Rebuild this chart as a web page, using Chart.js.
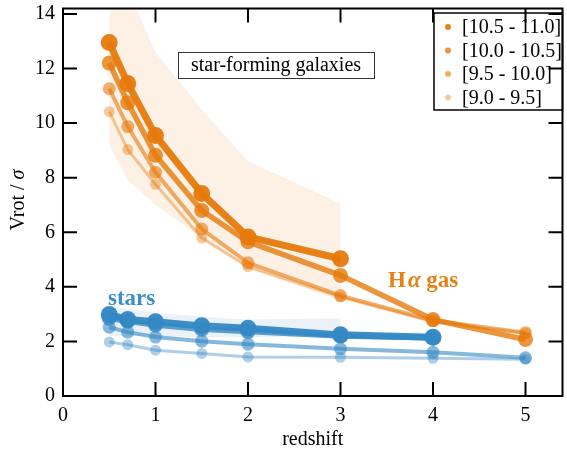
<!DOCTYPE html>
<html>
<head>
<meta charset="utf-8">
<script src="https://cdn.jsdelivr.net/npm/chart.js@4.4.0/dist/chart.umd.min.js"></script>
<style>
  html, body { margin: 0; padding: 0; background: #fff; overflow: hidden; }
  #wrap { width: 571px; height: 456px; }
</style>
</head>
<body>
<div id="wrap"><canvas id="myChart"></canvas></div>
<script>
// values
const redshift = [0.5, 0.7, 1.0, 1.5, 2.0, 3.0, 4.0, 5.0];
const massBins = ['[10.5 - 11.0]', '[10.0 - 10.5]', '[9.5 - 10.0]', '[9.0 - 9.5]'];

const gas1 = [12.95, 11.45, 9.55, 7.42, 5.83, 5.03, null, null];
const gas2 = [12.2, 10.75, 8.82, 6.8, 5.65, 4.42, 2.8, 2.07];
const gas3 = [11.26, 9.87, 8.2, 6.12, 4.88, 3.68, 2.77, 2.32];
const gas4 = [10.42, 9.03, 7.76, 5.79, 4.74, 3.63, 2.72, 2.3];

const stars1 = [2.99, 2.8, 2.72, 2.57, 2.48, 2.24, 2.15, null];
const stars2 = [2.85, 2.74, 2.6, 2.45, 2.36, 2.2, 2.13, null];
const stars3 = [2.52, 2.34, 2.16, 2.01, 1.9, 1.73, 1.6, 1.4];
const stars4 = [1.98, 1.88, 1.68, 1.56, 1.43, 1.42, 1.38, 1.35];

// shaded ranges of the star-forming sample
const bandZ = [0.5, 0.7, 1.0, 1.5, 2.0, 3.0];
const gasBandHi = [17, 14.9, 12.6, 10.5, 8.6, 7.05];
const gasBandLo = [9.2, 7.9, 7.0, 5.8, 4.66, 3.5];
const starBandHi = [3.3, 3.2, 3.05, 2.9, 2.8, 2.85];
const starBandLo = [2.2, 2.2, 2.2, 2.15, 2.15, 2.15];

const xTicks = [0, 1, 2, 3, 4, 5];
const yTicks = [0, 2, 4, 6, 8, 10, 12, 14];

const serif = '"Liberation Serif", "DejaVu Serif", serif';
const alphas = [0.95, 0.8, 0.6, 0.4];
const widths = [7, 5.5, 4, 3];
const radii = [8.5, 7.5, 6.5, 5.5];
const orange = a => 'rgba(230,122,12,' + a + ')';
const blue = a => 'rgba(52,136,196,' + a + ')';

function pts(xs, ys) {
  return xs.map((x, i) => ({ x: x, y: ys[i] }));
}

function series(label, ys, i, col) {
  return {
    label: label,
    data: pts(redshift, ys),
    borderColor: col(alphas[i]),
    backgroundColor: col(alphas[i]),
    borderWidth: widths[i],
    pointRadius: radii[i],
    pointBorderWidth: 0,
    pointBackgroundColor: col(alphas[i]),
    spanGaps: false,
    fill: false,
    order: 4 - i
  };
}

function band(ys, col, fill) {
  return {
    label: '',
    data: pts(bandZ, ys),
    borderWidth: 0,
    borderColor: 'rgba(0,0,0,0)',
    backgroundColor: col,
    pointRadius: 0,
    fill: fill,
    order: 20
  };
}

const gasSets = [gas1, gas2, gas3, gas4].map((ys, i) => series(massBins[i], ys, i, orange));
const starSets = [stars1, stars2, stars3, stars4].map((ys, i) => series('stars ' + massBins[i], ys, i, blue));

const datasets = gasSets.concat(starSets).concat([
  band(gasBandHi, 'rgba(235,140,50,0.12)', '+1'),
  band(gasBandLo, 'rgba(235,140,50,0.12)', false),
  band(starBandHi, 'rgba(60,130,180,0.1)', '+1'),
  band(starBandLo, 'rgba(60,130,180,0.1)', false)
]);

const frame = {
  id: 'frame',
  afterDatasetsDraw(chart) {
    const ctx = chart.ctx;
    const a = chart.chartArea;
    const xs = chart.scales.x, ys = chart.scales.y;
    ctx.save();

    // text box
    ctx.fillStyle = '#fff';
    ctx.fillRect(178, 52, 196, 26);
    ctx.strokeStyle = '#333';
    ctx.lineWidth = 1;
    ctx.strokeRect(178.5, 52.5, 196, 26);
    ctx.fillStyle = '#000';
    ctx.font = '20px ' + serif;
    ctx.textAlign = 'center';
    ctx.textBaseline = 'middle';
    ctx.fillText('star-forming galaxies', 276, 66);

    // legend
    ctx.fillStyle = '#fff';
    ctx.fillRect(434, 13, a.right - 434, 97);
    ctx.strokeStyle = '#000';
    ctx.lineWidth = 1.5;
    ctx.strokeRect(434, 13, a.right - 434, 97);
    ctx.textAlign = 'left';
    gasSets.forEach((ds, i) => {
      const y = 27 + i * 23.5;
      ctx.fillStyle = ds.borderColor;
      ctx.beginPath();
      ctx.arc(448, y, 3, 0, Math.PI * 2);
      ctx.fill();
      ctx.fillStyle = '#000';
      ctx.fillText(ds.label, 462, y + 1);
    });

    // labels on the curves
    ctx.textBaseline = 'alphabetic';
    ctx.font = 'bold 23px ' + serif;
    ctx.fillStyle = blue(0.95);
    ctx.fillText('stars', 108, 305);
    ctx.fillStyle = orange(0.95);
    let x = 388;
    ctx.fillText('H', x, 287);
    x += ctx.measureText('H').width + 2;
    ctx.font = 'bold italic 23px ' + serif;
    ctx.fillText('\u03b1', x, 287);
    x += ctx.measureText('\u03b1').width;
    ctx.font = 'bold 23px ' + serif;
    ctx.fillText(' gas', x, 287);

    // frame with inward ticks
    ctx.strokeStyle = '#000';
    ctx.lineWidth = 2;
    ctx.strokeRect(a.left, a.top, a.right - a.left, a.bottom - a.top);
    ctx.beginPath();
    const tl = 14;
    xTicks.forEach(v => {
      const px = xs.getPixelForValue(v);
      ctx.moveTo(px, a.bottom); ctx.lineTo(px, a.bottom - tl);
      ctx.moveTo(px, a.top); ctx.lineTo(px, a.top + tl);
    });
    yTicks.forEach(v => {
      const py = ys.getPixelForValue(v);
      ctx.moveTo(a.left, py); ctx.lineTo(a.left + tl, py);
      ctx.moveTo(a.right, py); ctx.lineTo(a.right - tl, py);
    });
    ctx.stroke();

    // y axis title with italic sigma
    ctx.translate(19, 200);
    ctx.rotate(-Math.PI / 2);
    ctx.fillStyle = '#000';
    ctx.font = '20px ' + serif;
    const t1 = 'Vrot / ';
    const w1 = ctx.measureText(t1).width;
    ctx.font = 'italic 20px ' + serif;
    const w2 = ctx.measureText('\u03c3').width;
    ctx.textBaseline = 'middle';
    ctx.font = '20px ' + serif;
    ctx.fillText(t1, -(w1 + w2) / 2, 0);
    ctx.font = 'italic 20px ' + serif;
    ctx.fillText('\u03c3', -(w1 + w2) / 2 + w1, 0);
    ctx.restore();
  }
};

Chart.defaults.color = '#000';
Chart.defaults.font.family = serif;

const config = {
  type: 'line',
  data: { datasets: datasets },
  options: {
    responsive: true,
    maintainAspectRatio: false,
    animation: false,
    layout: { padding: { top: 7, right: 1, left: 0, bottom: 0 } },
    plugins: {
      legend: { display: false },
      tooltip: { enabled: false }
    },
    scales: {
      x: {
        type: 'linear',
        min: 0,
        max: 5.4,
        afterFit: s => { s.height = 60; s.paddingLeft = 0; s.paddingRight = 0; },
        grid: { display: false, drawTicks: false },
        border: { display: false },
        ticks: { stepSize: 1, includeBounds: false, padding: 8, font: { size: 20 } },
        title: { display: true, text: 'redshift', font: { size: 20 }, padding: { top: 0, bottom: 4 } }
      },
      y: {
        min: 0,
        max: 14.2,
        afterFit: s => { s.width = 63; s.paddingTop = 0; s.paddingBottom = 0; },
        grid: { display: false, drawTicks: false },
        border: { display: false },
        ticks: { stepSize: 2, includeBounds: false, padding: 8, font: { size: 20 } }
      }
    }
  },
  plugins: [frame]
};

const myChart = new Chart(document.getElementById('myChart'), config);
</script>
</body>
</html>
